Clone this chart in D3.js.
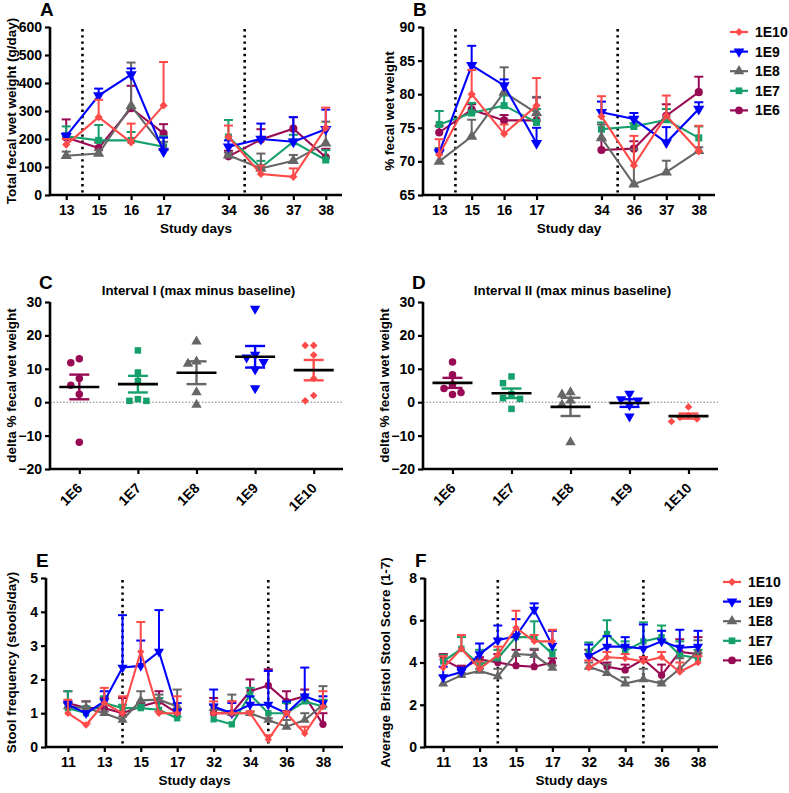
<!DOCTYPE html>
<html>
<head>
<meta charset="utf-8">
<script src="https://cdn.jsdelivr.net/npm/d3@7"></script>
<style>
  body { margin: 0; background: #fff; }
  svg text { font-family: "Liberation Sans", Arial, sans-serif; font-weight: bold; fill: #000; }
</style>
</head>
<body>
<svg id="fig" width="789" height="793"></svg>
<script>
// dose groups, in legend order
var groups = ["1E10", "1E9", "1E8", "1E7", "1E6"];
var colors = ["#ff4a4a", "#0000ff", "#666666", "#15a06b", "#990a55"];
var shapes = ["diamond", "down", "up", "square", "circle"];

var daysAB = [13, 15, 16, 17, 34, 36, 37, 38];
var daysEF = [11, 12, 13, 14, 15, 16, 17, 32, 33, 34, 35, 36, 37, 38];
var tickDaysEF = [11, 13, 15, 17, 32, 34, 36, 38];
var doseDays = [14, 35];

// A: total fecal wet weight (g/day), mean and upper SEM, rows follow groups
var weightMean = [
  [180, 278, 188, 320, 208, 75, 65, 240],
  [210, 355, 430, 155, 172, 200, 190, 235],
  [140, 148, 318, 170, 142, 95, 122, 185],
  [210, 195, 195, 172, 207, 98, 190, 125],
  [205, 168, 310, 220, 138, 198, 237, 135]
];
var weightErr = [
  [20, 62, 67, 155, 40, 30, 30, 72],
  [10, 25, 22, 50, 23, 55, 88, 70],
  [15, 12, 155, 20, 10, 53, 21, 77],
  [35, 55, 30, 38, 61, 24, 25, 35],
  [65, 20, 80, 33, 20, 37, 41, 30]
];

// B: % fecal wet weight
var wetMean = [
  [71.0, 80.0, 74.1, 78.3, 76.7, 69.4, 76.8, 71.5],
  [71.3, 84.3, 81.3, 72.7, 77.3, 76.3, 72.8, 77.8],
  [70.0, 73.7, 80.3, 77.2, 73.5, 66.6, 68.4, 71.6],
  [75.5, 77.2, 78.3, 75.8, 74.8, 75.2, 76.2, 73.5],
  [74.3, 77.7, 76.1, 76.1, 71.7, 71.9, 76.8, 80.3]
];
var wetErr = [
  [2.3, 3.6, 1.4, 4.1, 3.0, 4.4, 3.0, 3.8],
  [0.5, 2.9, 0.9, 2.3, 1.6, 0.9, 2.3, 1.0],
  [2.0, 2.5, 3.7, 2.4, 2.0, 5.2, 1.7, 0.5],
  [2.0, 1.5, 1.5, 2.0, 1.0, 0.5, 1.6, 1.7],
  [1.0, 0.8, 0.8, 3.4, 1.6, 1.1, 1.7, 2.3]
];

// C, D: delta % fecal wet weight per subject
var catsCD = ["1E6", "1E7", "1E8", "1E9", "1E10"];
var intervalI = [
  [11.8, 13.0, 7.1, 5.1, 2.4, -12.0],
  [15.5, 8.9, 6.3, 0.9, 0.4, 0.4],
  [18.2, 12.2, 11.5, 3.0, -0.8],
  [28.0, 14.2, 13.4, 12.0, 9.8, 4.2],
  [17.0, 17.0, 14.1, 7.1, 2.0, 0.4]
];
var intervalII = [
  [12.0, 8.2, 5.2, 4.1, 2.9, 2.3],
  [7.7, 5.7, 2.4, 1.2, 1.0, -2.0],
  [3.0, 2.3, 0.5, -0.8, -12.0],
  [2.5, 0.9, 0.5, -0.9, -4.3],
  [-1.4, -4.0, -4.6, -5.0, -5.8]
];

// E: stool frequency (stools/day)
var freqMean = [
  [1.0, 0.65, 1.3, 1.0, 2.82, 1.0, 1.0, 1.0, 1.0, 1.0, 0.22, 1.0, 0.4, 1.2],
  [1.25, 1.0, 1.35, 2.35, 2.4, 2.82, 1.05, 1.2, 1.0, 1.25, 1.25, 1.0, 1.5, 1.3],
  [1.2, 1.15, 1.0, 0.8, 1.38, 1.4, 1.2, 1.15, 1.0, 1.0, 0.8, 0.6, 0.8, 1.25],
  [1.15, 1.0, 1.3, 1.15, 1.15, 1.1, 0.85, 0.82, 0.67, 1.55, 1.0, 1.0, 1.35, 1.2],
  [1.3, 1.15, 1.15, 1.0, 1.2, 1.35, 1.0, 1.0, 1.0, 1.65, 1.82, 1.35, 1.5, 0.67]
];
var freqErr = [
  [0.4, 0.05, 0.45, 0.5, 0.88, 0.05, 0.5, 0.35, 0.35, 0.05, 0.13, 0.05, 0.2, 0.45],
  [0.1, 0, 0.3, 1.55, 0.75, 1.23, 0.25, 0.5, 0.3, 0.25, 1.0, 0.35, 0.85, 0.2],
  [0.1, 0.2, 0.05, 0.1, 0.27, 0.15, 0.5, 0.1, 0.55, 0.05, 0.05, 0.2, 0.2, 0.55],
  [0.5, 0.2, 0.2, 0.1, 0.1, 0.35, 0.05, 0, 0, 0.2, 0, 0.3, 0.15, 0.2],
  [0.35, 0.2, 0.3, 0.45, 0.1, 0.3, 0.1, 0.45, 0.35, 0.35, 0.48, 0.3, 0.2, 0.33]
];

// F: average Bristol stool score
var bristolMean = [
  [3.75, 4.65, 3.7, 4.35, 5.65, 5.0, 5.0, 3.75, 4.25, 4.2, 4.05, 4.25, 3.55, 4.0],
  [3.3, 3.55, 4.4, 5.05, 5.25, 6.5, 4.8, 4.3, 4.75, 4.75, 4.65, 5.0, 4.7, 4.75],
  [3.0, 3.4, 3.6, 3.35, 4.4, 4.35, 3.75, 3.8, 3.5, 3.0, 3.2, 3.0, 3.7, 4.55],
  [4.05, 4.65, 3.9, 4.2, 5.2, 5.2, 4.4, 4.5, 5.35, 4.55, 5.0, 5.2, 4.35, 4.2],
  [4.15, 3.7, 4.15, 4.0, 3.85, 3.8, 4.0, 4.35, 3.8, 3.65, 4.15, 3.4, 4.5, 4.4]
];
var bristolErr = [
  [0.55, 0.65, 0.35, 0.4, 0.8, 0.3, 0.55, 0.35, 0.25, 0.2, 0.2, 0.25, 0.45, 0.3],
  [0.5, 0.2, 0.5, 0.7, 0.8, 0.3, 0.7, 0.55, 0.5, 0.45, 1.15, 0.5, 0.85, 0.75],
  [0.4, 0.1, 0.1, 0.35, 0.8, 0.3, 0.1, 0.2, 0.4, 0.3, 0.5, 0.1, 0.5, 0.5],
  [0.3, 0.55, 0.7, 0.4, 0.15, 0.75, 0.2, 0.45, 0.65, 0.45, 0.9, 0.55, 0.65, 0.4],
  [0.25, 0.15, 0.1, 0.4, 0.75, 0.8, 0.2, 0.25, 0.2, 0.25, 0.1, 0.5, 0.6, 0.8]
];

var svg = d3.select("#fig");

var symbolTypes = {
  diamond: d3.symbolSquare, down: d3.symbolTriangle, up: d3.symbolTriangle,
  square: d3.symbolSquare, circle: d3.symbolCircle
};
var symbolSizes = { diamond: 34, down: 55, up: 55, square: 50, circle: 52 };
var symbolTurn = { diamond: " rotate(45)", down: " rotate(180)", up: "", square: "", circle: "" };

// draws group k's marker centred at (cx, cy)
function addMarker(g, k, cx, cy, scale) {
  var s = shapes[k];
  g.append("path")
    .attr("d", d3.symbol().type(symbolTypes[s]).size(symbolSizes[s] * (scale || 1)))
    .attr("fill", colors[k])
    .attr("transform", "translate(" + cx + "," + cy + ")" + symbolTurn[s]);
}

function frame(g, left, right, top, bottom) {
  g.append("path")
    .attr("d", "M" + left + "," + top + "V" + bottom + "H" + right)
    .attr("fill", "none").attr("stroke", "#000").attr("stroke-width", 2.6);
}

function styleAxis(a) {
  a.select(".domain").remove();
  a.selectAll(".tick line").attr("stroke", "#000").attr("stroke-width", 2.2);
  a.selectAll(".tick text").style("font-size", "14px").attr("fill", "#000");
}

function yLabel(g, text, x, cy) {
  g.append("text").attr("transform", "translate(" + x + "," + cy + ") rotate(-90)")
    .attr("text-anchor", "middle").style("font-size", "13.5px").text(text);
}

function panelLetter(g, text, x, y) {
  g.append("text").attr("x", x).attr("y", y).style("font-size", "19px").text(text);
}

function legend(lx, ly) {
  var g = svg.append("g");
  groups.forEach(function(name, k) {
    var y = ly + k * 19.6;
    g.append("line").attr("x1", lx).attr("x2", lx + 18).attr("y1", y).attr("y2", y)
      .attr("stroke", colors[k]).attr("stroke-width", 2.2);
    addMarker(g, k, lx + 9, y, 0.9);
    g.append("text").attr("x", lx + 25).attr("y", y + 5).style("font-size", "14px").text(name);
  });
}

// time-course panel (A, B, E, F)
function linePanel(p) {
  var g = svg.append("g");
  var x = d3.scaleLinear().domain(p.slotDomain).range([p.left, p.right]);
  var slot = d3.scaleLinear().domain(p.days).range(p.slots);
  var dayX = d3.scaleLinear().domain(p.days).range(p.slots.map(function(s) { return x(s); }));
  var y = d3.scaleLinear().domain(p.yDomain).range([p.bottom, p.top]);

  g.selectAll(".dose").data(doseDays).join("line")
    .attr("x1", dayX).attr("x2", dayX)
    .attr("y1", p.top + 2).attr("y2", p.bottom)
    .attr("stroke", "#000").attr("stroke-width", 2.6)
    .attr("stroke-dasharray", "2.4,3.8");

  var line = d3.line().x(function(d) { return dayX(d.day); }).y(function(d) { return y(d.m); });

  // 1E6 first, 1E10 last (on top)
  d3.range(groups.length).reverse().forEach(function(k) {
    var s = g.append("g");
    var pts = p.days.map(function(d, i) { return { day: d, m: p.mean[k][i], e: p.err[k][i] }; });
    // split into the two study intervals
    var segs = [[]];
    pts.forEach(function(d, i) {
      if (i > 0 && slot(d.day) - slot(pts[i - 1].day) > 1.5) segs.push([]);
      segs[segs.length - 1].push(d);
    });
    segs.forEach(function(seg) {
      s.append("path").attr("d", line(seg)).attr("fill", "none")
        .attr("stroke", colors[k]).attr("stroke-width", 2.1);
    });
    pts.forEach(function(d) {
      if (!d.e) return;
      var cx = dayX(d.day), y0 = y(d.m), y1 = y(d.m + d.e);
      s.append("line").attr("x1", cx).attr("x2", cx).attr("y1", y0).attr("y2", y1)
        .attr("stroke", colors[k]).attr("stroke-width", 2);
      s.append("line").attr("x1", cx - 4.5).attr("x2", cx + 4.5).attr("y1", y1).attr("y2", y1)
        .attr("stroke", colors[k]).attr("stroke-width", 2);
    });
    pts.forEach(function(d) { addMarker(s, k, dayX(d.day), y(d.m), p.markerScale); });
  });

  var ya = g.append("g").attr("transform", "translate(" + p.left + ",0)")
    .call(d3.axisLeft(y).tickValues(p.yTicks).tickFormat(d3.format("d")).tickSize(5).tickPadding(3));
  styleAxis(ya);
  var xa = g.append("g").attr("transform", "translate(0," + p.bottom + ")")
    .call(d3.axisBottom(dayX).tickValues(p.tickDays).tickFormat(d3.format("d")).tickSize(5).tickPadding(5));
  styleAxis(xa);
  frame(g, p.left, p.right, p.top, p.bottom);

  g.append("text").attr("x", (p.left + p.right) / 2).attr("y", p.bottom + 38)
    .attr("text-anchor", "middle").style("font-size", "13.5px").text(p.xLabel);
  yLabel(g, p.yLabel, p.yLabelX, (p.top + p.bottom) / 2);
  panelLetter(g, p.letter, p.left - 10, p.top - 11);
}

// small beeswarm: spread points that would overlap
function swarm(vals, y, step) {
  var placed = [];
  var order = vals.map(function(v, i) { return i; }).sort(function(a, b) { return vals[b] - vals[a]; });
  var off = new Array(vals.length);
  order.forEach(function(i) {
    var py = y(vals[i]);
    var tries = [0, -1, 1, -2, 2, -3, 3];
    for (var t = 0; t < tries.length; t++) {
      var ox = tries[t] * step;
      var hit = placed.some(function(q) { return Math.hypot(q.x - ox, q.y - py) < step - 0.5; });
      if (!hit) { off[i] = ox; placed.push({ x: ox, y: py }); break; }
    }
  });
  return off;
}

// scatter panel with mean and SEM (C, D)
function dotPanel(p) {
  var g = svg.append("g");
  var x = d3.scalePoint().domain(catsCD).range([p.left, p.right]).padding(0.5);
  var y = d3.scaleLinear().domain([-20, 30]).range([p.bottom, p.top]);

  g.append("line").attr("x1", p.left).attr("x2", p.right).attr("y1", y(0)).attr("y2", y(0))
    .attr("stroke", "#777").attr("stroke-width", 1).attr("stroke-dasharray", "1.5,1.8");

  catsCD.forEach(function(cat, ci) {
    var k = groups.indexOf(cat);
    var vals = p.values[ci];
    var cx = x(cat);
    var offs = swarm(vals, y, 8.5);
    vals.forEach(function(v, i) { addMarker(g, k, cx + offs[i], y(v), 0.85); });
    var m = d3.mean(vals), sem = d3.deviation(vals) / Math.sqrt(vals.length);
    g.append("line").attr("x1", cx).attr("x2", cx).attr("y1", y(m - sem)).attr("y2", y(m + sem))
      .attr("stroke", colors[k]).attr("stroke-width", 2.4);
    [m - sem, m + sem].forEach(function(v) {
      g.append("line").attr("x1", cx - 10).attr("x2", cx + 10).attr("y1", y(v)).attr("y2", y(v))
        .attr("stroke", colors[k]).attr("stroke-width", 2.4);
    });
    g.append("line").attr("x1", cx - 20).attr("x2", cx + 20).attr("y1", y(m)).attr("y2", y(m))
      .attr("stroke", "#000").attr("stroke-width", 2.6);
  });

  var ya = g.append("g").attr("transform", "translate(" + p.left + ",0)")
    .call(d3.axisLeft(y).tickValues([-20, -10, 0, 10, 20, 30]).tickSize(5).tickPadding(3));
  styleAxis(ya);
  var xa = g.append("g").attr("transform", "translate(0," + p.bottom + ")")
    .call(d3.axisBottom(x).tickSize(5).tickFormat(""));
  styleAxis(xa);
  g.selectAll(".cat").data(catsCD).join("text")
    .attr("text-anchor", "end").style("font-size", "14px")
    .attr("transform", function(d) { return "translate(" + (x(d) + 4) + "," + (p.bottom + 20) + ") rotate(-45)"; })
    .text(function(d) { return d; });
  frame(g, p.left, p.right, p.top, p.bottom);

  g.append("text").attr("x", (p.left + p.right) / 2 + 2).attr("y", p.top - 7)
    .attr("text-anchor", "middle").style("font-size", "13.3px").text(p.title);
  yLabel(g, "delta % fecal wet weight", p.yLabelX, (p.top + p.bottom) / 2);
  panelLetter(g, p.letter, p.left - 11, p.top - 13);
}

var slotsAB = [0, 1, 2, 3, 5, 6, 7, 8];
var slotsEF = [0, 1, 2, 3, 4, 5, 6, 8, 9, 10, 11, 12, 13, 14];

linePanel({ left: 50, right: 342, top: 27, bottom: 195, days: daysAB, slots: slotsAB, slotDomain: [-0.5, 8.5],
  tickDays: daysAB, yDomain: [0, 600], yTicks: d3.range(0, 601, 100), mean: weightMean, err: weightErr,
  xLabel: "Study days", yLabel: "Total fecal wet weight (g/day)", yLabelX: 16, letter: "A" });
linePanel({ left: 423, right: 715, top: 27, bottom: 195, days: daysAB, slots: slotsAB, slotDomain: [-0.5, 8.5],
  tickDays: daysAB, yDomain: [65, 90], yTicks: d3.range(65, 91, 5), mean: wetMean, err: wetErr,
  xLabel: "Study day", yLabel: "% fecal wet weight", yLabelX: 394, letter: "B" });
legend(730, 32);

dotPanel({ left: 50, right: 343, top: 302, bottom: 469, values: intervalI,
  title: "Interval I (max minus baseline)", yLabelX: 16, letter: "C" });
dotPanel({ left: 423, right: 718, top: 302, bottom: 469, values: intervalII,
  title: "Interval II (max minus baseline)", yLabelX: 389, letter: "D" });

linePanel({ left: 46, right: 343, top: 578, bottom: 747, days: daysEF, slots: slotsEF, slotDomain: [-1.2, 15.1],
  tickDays: tickDaysEF, yDomain: [0, 5], yTicks: d3.range(0, 6), mean: freqMean, err: freqErr, markerScale: 0.8,
  xLabel: "Study days", yLabel: "Stool frequency (stools/day)", yLabelX: 16, letter: "E" });
linePanel({ left: 425, right: 718, top: 578, bottom: 747, days: daysEF, slots: slotsEF, slotDomain: [-1, 15.1],
  tickDays: tickDaysEF, yDomain: [0, 8], yTicks: d3.range(0, 9, 2), mean: bristolMean, err: bristolErr, markerScale: 0.8,
  xLabel: "Study days", yLabel: "Average Bristol Stool Score (1-7)", yLabelX: 390, letter: "F" });
legend(723, 582);
</script>
</body>
</html>
